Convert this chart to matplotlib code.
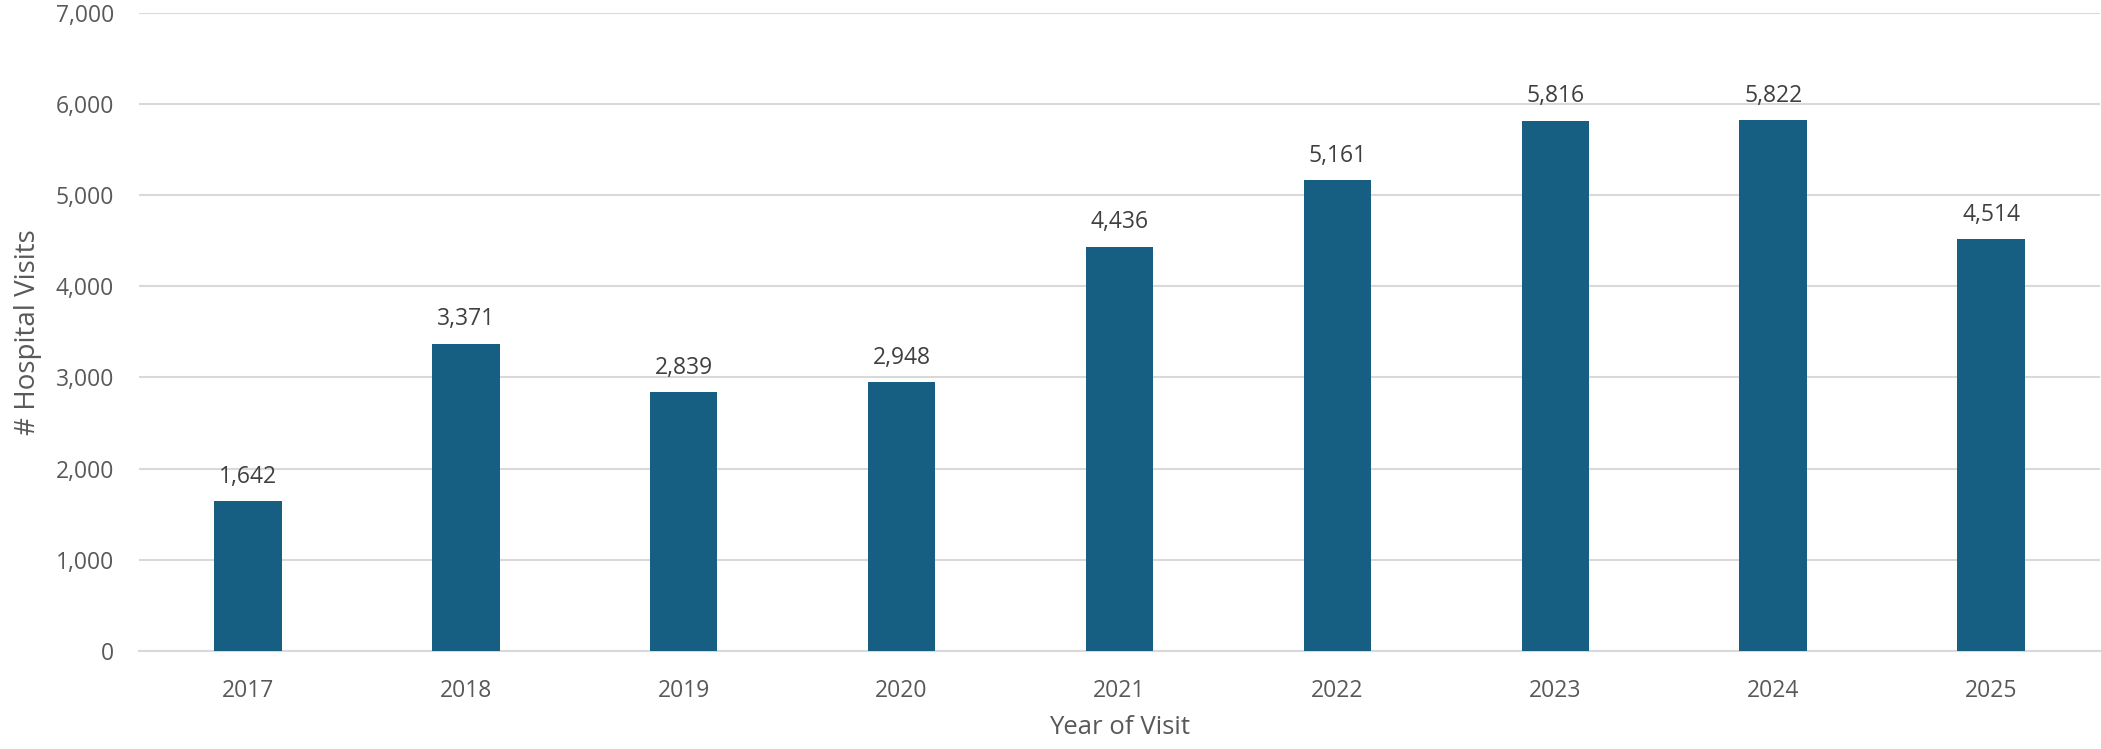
import matplotlib.pyplot as plt
from matplotlib.ticker import FuncFormatter

# --- データ ---
years = ['2017', '2018', '2019', '2020', '2021', '2022', '2023', '2024', '2025']
visits = [1642, 3371, 2839, 2948, 4436, 5161, 5816, 5822, 4514]

BAR_COLOR = '#175F82'
TEXT_COLOR = '#595959'
LABEL_COLOR = '#404040'
GRID_COLOR = '#D9D9D9'

plt.rcParams['font.family'] = ['Open Sans', 'DejaVu Sans']

fig = plt.figure(figsize=(21.01, 7.49), dpi=100)
ax = fig.add_axes([139 / 2101, 98 / 749, (2100 - 139) / 2101, (736.3 - 98) / 749])

x = range(len(years))
bars = ax.bar(x, visits, width=0.31, color=BAR_COLOR, zorder=3)

# 値ラベル
for b, v in zip(bars, visits):
    ax.annotate(f"{v:,}", (b.get_x() + b.get_width() / 2, v),
                xytext=(0, 9), textcoords='offset points',
                ha='center', va='bottom', fontsize=16.5, color=LABEL_COLOR)

ax.set_xlim(-0.5, len(years) - 0.5)
ax.set_ylim(0, 7000)
ax.set_yticks(range(0, 7001, 1000))
ax.yaxis.set_major_formatter(FuncFormatter(lambda v, p: f"{int(v):,}"))
ax.set_xticks(list(x))
ax.set_xticklabels(years)

ax.grid(axis='y', color=GRID_COLOR, linewidth=1.5, zorder=0)
for s in ['top', 'right', 'left']:
    ax.spines[s].set_visible(False)
ax.spines['bottom'].set_color(GRID_COLOR)
ax.spines['bottom'].set_linewidth(1.5)

ax.tick_params(axis='both', length=0, labelsize=16.5, labelcolor=TEXT_COLOR)
ax.tick_params(axis='y', pad=18)
ax.tick_params(axis='x', pad=20)

ax.set_xlabel("Year of Visit", fontsize=18.5, color=TEXT_COLOR, labelpad=9)
ax.set_ylabel("# Hospital Visits", fontsize=20, color=TEXT_COLOR, labelpad=10)

fig.savefig("out.png", dpi=100)
